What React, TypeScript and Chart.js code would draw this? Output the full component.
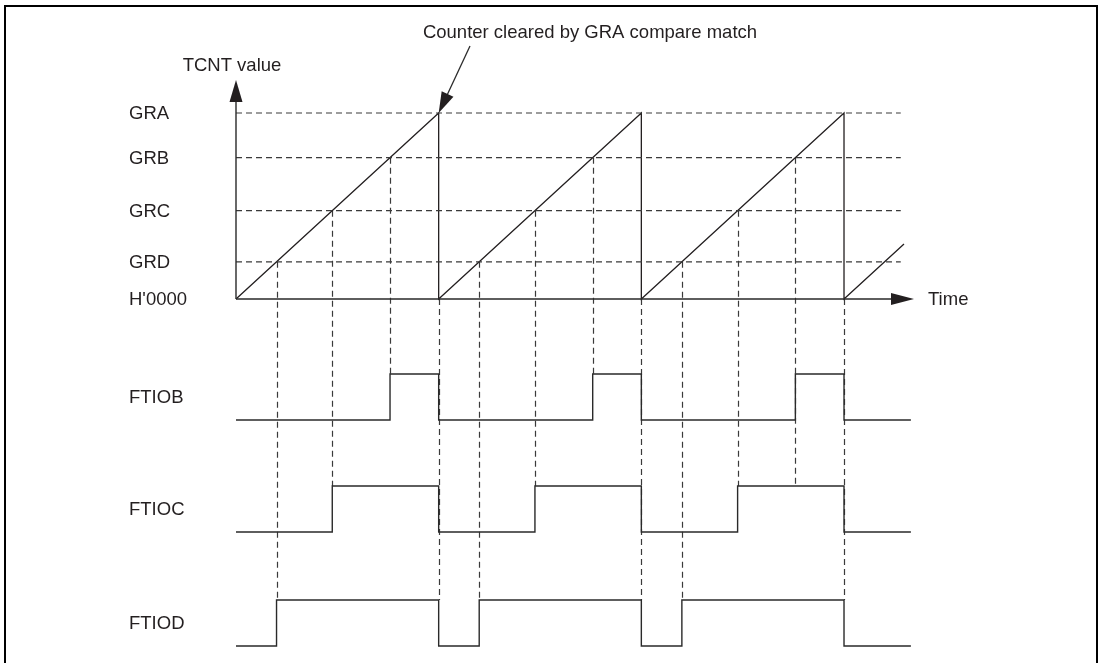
import React, { useEffect, useRef } from 'react';
import { Chart, registerables } from 'chart.js';

Chart.register(...registerables);

// ---------------- data ----------------
// compare registers, expressed as a fraction of GRA (counter value)
const registerNames = ['GRA', 'GRB', 'GRC', 'GRD', "H'0000"];
const registerValues = [1, 0.76, 0.475, 0.2, 0];

// TCNT sawtooth: time (in GRA periods) and counter value
const counterTimes = [0, 1, 1, 2, 2, 3, 3, 3.296];
const counterValues = [0, 1, 0, 1, 0, 1, 0, 0.296];

// output waveforms (0 = low, 1 = high), level changes at given times
const signalNames = ['FTIOB', 'FTIOC', 'FTIOD'];
const ftiobTimes = [0, 0.76, 1, 1.76, 2, 2.76, 3, 3.33];
const ftiobLevels = [0, 1, 0, 1, 0, 1, 0, 0];
const ftiocTimes = [0, 0.475, 1, 1.475, 2, 2.475, 3, 3.33];
const ftiocLevels = [0, 1, 0, 1, 0, 1, 0, 0];
const ftiodTimes = [0, 0.2, 1, 1.2, 2, 2.2, 3, 3.33];
const ftiodLevels = [0, 1, 0, 1, 0, 1, 0, 0];

// dashed guide lines: time, counter value they start from, signal they reach
const guideTimes = [0.2, 0.475, 0.76, 1, 1.2, 1.475, 1.76, 2, 2.2, 2.475, 2.76, 3];
const guideFrom = [0.2, 0.475, 0.76, 0, 0.2, 0.475, 0.76, 0, 0.2, 0.475, 0.76, 0];
const guideTo = ['FTIOD', 'FTIOC', 'FTIOB', 'FTIOD', 'FTIOD', 'FTIOC', 'FTIOB', 'FTIOD', 'FTIOD', 'FTIOC', 'FTIOC', 'FTIOD'];

const registerLineEnd = 3.28;

const annotationText = 'Counter cleared by GRA compare match';
const yAxisTitle = 'TCNT value';
const xAxisTitle = 'Time';

// ---------------- layout ----------------
const W = 1102;
const H = 663;
const X0 = 236; // pixel of t = 0
const PX_PER_PERIOD = 202.67;
const Y0 = 299; // pixel of counter = 0
const PX_PER_UNIT = 186;
const SIGNAL_LOW_PX = [420, 532, 646];
const SIGNAL_AMP_PX = 46;
const LABEL_X = 129;
const FONT = '18.5px "Liberation Sans", Arial, sans-serif';
const TEXT_COLOR = '#231f20';
const LINE_COLOR = '#2a2a2a';
const DASH_COLOR = '#3a3a3a';
const signalAxisIds = ['yB', 'yC', 'yD'];

function pts(xs: number[], ys: number[]) {
  return xs.map((x, i) => ({ x, y: ys[i] }));
}

function arrowHead(ctx: CanvasRenderingContext2D, tipX: number, tipY: number, dx: number, dy: number, len: number, half: number) {
  const n = Math.hypot(dx, dy);
  const ux = dx / n, uy = dy / n;
  const bx = tipX - ux * len, by = tipY - uy * len;
  ctx.beginPath();
  ctx.moveTo(tipX, tipY);
  ctx.lineTo(bx - uy * half, by + ux * half);
  ctx.lineTo(bx + uy * half, by - ux * half);
  ctx.closePath();
  ctx.fill();
}

const diagramPlugin = {
  id: 'diagram',
  beforeDatasetsDraw(chart: any) {
    const ctx: CanvasRenderingContext2D = chart.ctx;
    const xs = chart.scales.x;
    const ys = chart.scales.y;
    ctx.save();
    // frame (open at the bottom)
    ctx.strokeStyle = '#000';
    ctx.lineWidth = 2;
    ctx.beginPath();
    ctx.moveTo(5, H);
    ctx.lineTo(5, 6);
    ctx.lineTo(1097, 6);
    ctx.lineTo(1097, H);
    ctx.stroke();
    // guides
    ctx.setLineDash([6, 4]);
    ctx.lineWidth = 1.2;
    ctx.strokeStyle = DASH_COLOR;
    guideTimes.forEach((t, i) => {
      const px = Math.round(xs.getPixelForValue(t)) + 0.5;
      const sIdx = signalNames.indexOf(guideTo[i]);
      const sScale = chart.scales[signalAxisIds[sIdx]];
      ctx.beginPath();
      ctx.moveTo(px, ys.getPixelForValue(guideFrom[i]));
      ctx.lineTo(px, sScale.getPixelForValue(1));
      ctx.stroke();
    });
    ctx.restore();
  },
  afterDatasetsDraw(chart: any) {
    const ctx: CanvasRenderingContext2D = chart.ctx;
    const xs = chart.scales.x;
    const ys = chart.scales.y;
    ctx.save();
    const ox = xs.getPixelForValue(0);
    const oy = ys.getPixelForValue(0);
    // axes
    ctx.strokeStyle = LINE_COLOR;
    ctx.fillStyle = TEXT_COLOR;
    ctx.lineWidth = 1.4;
    ctx.beginPath();
    ctx.moveTo(ox, oy);
    ctx.lineTo(ox, 100);
    ctx.moveTo(ox, oy);
    ctx.lineTo(893, oy);
    ctx.stroke();
    arrowHead(ctx, ox, 80, 0, -1, 22, 6.5);
    arrowHead(ctx, 914, oy, 1, 0, 23, 6);
    // annotation arrow pointing at the first GRA compare match
    const tipX = xs.getPixelForValue(1);
    const tipY = ys.getPixelForValue(1);
    ctx.lineWidth = 1.3;
    ctx.beginPath();
    ctx.moveTo(470, 46);
    const dx = tipX - 470, dy = tipY - 46;
    const n = Math.hypot(dx, dy);
    ctx.lineTo(tipX - (dx / n) * 15, tipY - (dy / n) * 15);
    ctx.stroke();
    arrowHead(ctx, tipX, tipY, dx, dy, 21, 6.5);
    // text
    ctx.font = FONT;
    ctx.fillStyle = TEXT_COLOR;
    ctx.textBaseline = 'middle';
    ctx.textAlign = 'left';
    registerNames.forEach((name, i) => {
      ctx.fillText(name, LABEL_X, ys.getPixelForValue(registerValues[i]) + 1);
    });
    signalNames.forEach((name, i) => {
      const s = chart.scales[signalAxisIds[i]];
      ctx.fillText(name, LABEL_X, s.getPixelForValue(0.5) + 1);
    });
    ctx.fillText(xAxisTitle, 928, oy + 1);
    ctx.textAlign = 'center';
    ctx.fillText(yAxisTitle, 232, 66);
    ctx.fillText(annotationText, 590, 33);
    ctx.restore();
  },
};

export default function App() {
  const ref = useRef<HTMLCanvasElement>(null);
  useEffect(() => {
    const canvas = ref.current;
    if (!canvas) return;
    const registerDatasets = registerValues
      .filter((v) => v > 0)
      .map((v) => ({
        data: [{ x: 0, y: v }, { x: registerLineEnd, y: v }],
        borderColor: DASH_COLOR,
        borderWidth: 1.2,
        borderDash: [6, 4],
        pointRadius: 0,
        showLine: true,
        yAxisID: 'y',
      }));
    const signalData = [
      pts(ftiobTimes, ftiobLevels),
      pts(ftiocTimes, ftiocLevels),
      pts(ftiodTimes, ftiodLevels),
    ];
    const signalDatasets = signalData.map((d, i) => ({
      data: d,
      borderColor: LINE_COLOR,
      borderWidth: 1.4,
      pointRadius: 0,
      showLine: true,
      stepped: 'before' as const,
      yAxisID: signalAxisIds[i],
    }));
    const counterDataset = {
      data: pts(counterTimes, counterValues),
      borderColor: TEXT_COLOR,
      borderWidth: 1.3,
      pointRadius: 0,
      showLine: true,
      yAxisID: 'y',
    };
    const sigScale = (low: number) => ({
      type: 'linear' as const,
      display: false,
      bounds: 'data' as const,
      min: -(H - low) / SIGNAL_AMP_PX,
      max: low / SIGNAL_AMP_PX,
    });
    const chart = new Chart(canvas, {
      type: 'scatter',
      data: { datasets: [...registerDatasets, counterDataset, ...signalDatasets] as any },
      options: {
        animation: false,
        responsive: false,
        devicePixelRatio: 1,
        layout: { padding: 0 },
        plugins: { legend: { display: false }, tooltip: { enabled: false } },
        events: [],
        scales: {
          x: {
            type: 'linear',
            display: false,
            bounds: 'data',
            min: -X0 / PX_PER_PERIOD,
            max: (W - X0) / PX_PER_PERIOD,
          },
          y: {
            type: 'linear',
            display: false,
            bounds: 'data',
            min: -(H - Y0) / PX_PER_UNIT,
            max: Y0 / PX_PER_UNIT,
          },
          yB: sigScale(SIGNAL_LOW_PX[0]),
          yC: sigScale(SIGNAL_LOW_PX[1]),
          yD: sigScale(SIGNAL_LOW_PX[2]),
        } as any,
      },
      plugins: [diagramPlugin],
    });
    return () => chart.destroy();
  }, []);
  return (
    <div style={{ position: 'absolute', left: 0, top: 0, width: W, height: H, background: '#fff' }}>
      <canvas ref={ref} width={W} height={H} style={{ display: 'block', width: W, height: H }} />
    </div>
  );
}
